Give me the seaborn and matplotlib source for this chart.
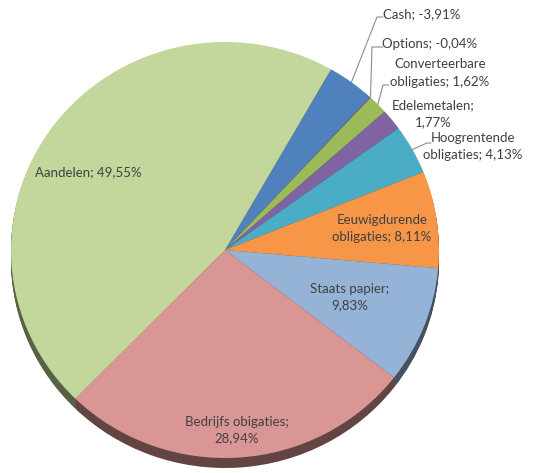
import numpy as np
import matplotlib
matplotlib.use("Agg")
import matplotlib.pyplot as plt
import seaborn as sns
from matplotlib.lines import Line2D

# data (percentages as shown in the chart; negative ones drawn by absolute size)
categories = ["Cash", "Options", "Converteerbare obligaties", "Edelemetalen",
              "Hoogrentende obligaties", "Eeuwigdurende obligaties",
              "Staats papier", "Bedrijfs obigaties", "Aandelen"]
shares = [-3.91, -0.04, 1.62, 1.77, 4.13, 8.11, 9.83, 28.94, 49.55]
slice_colors = ["#4F81BD", "#C0504D", "#9BBB59", "#8064A2", "#4BACC6",
                "#F79646", "#95B3D7", "#D99694", "#C3D69B"]
label_lines = [["Cash; -3,91%"], ["Options; -0,04%"],
               ["Converteerbare", "obligaties; 1,62%"], ["Edelemetalen;", "1,77%"],
               ["Hoogrentende", "obligaties; 4,13%"], ["Eeuwigdurende", "obligaties; 8,11%"],
               ["Staats papier;", "9,83%"], ["Bedrijfs obigaties;", "28,94%"],
               ["Aandelen; 49,55%"]]

sns.set_theme(style="white")
plt.rcParams["font.family"] = ["Lato", "DejaVu Sans"]

W, H = 541, 473
cx, cy = 225, 250      # pie centre in pixels (from top-left)
rx, ry = 214, 208      # slightly squashed -> tilted look
depth = 10

fig = plt.figure(figsize=(W / 100, H / 100), dpi=100)
ax = fig.add_axes([0, 0, 1, 1])

sizes = np.abs(shares)
palette = sns.color_palette(slice_colors)
dark = [tuple(c * 0.45 for c in col) for col in palette]

# side of the 3d pie: stacked darker copies shifted downward
for k in range(depth, 0, -1):
    ax.pie(sizes, colors=dark, startangle=60.3, counterclock=False,
           center=(0, -k / ry), radius=1, wedgeprops=dict(linewidth=0), frame=True)
wedges, _ = ax.pie(sizes, colors=palette, startangle=60.3, counterclock=False,
                   center=(0, 0), radius=1, wedgeprops=dict(linewidth=0), frame=True)

ax.set_aspect("auto")
ax.set_xlim(-cx / rx, (W - cx) / rx)
ax.set_ylim(-(H - cy) / ry, cy / ry)
ax.axis("off")

txt_color = "#404040"

def px(x, y):
    return x / W, 1 - y / H

# label anchor (pixel centre of text block) per slice
label_pos = [(422, 14), (430, 44), (440, 73), (433, 114), (473, 146),
             (382, 228), (350, 297), (237, 430), (88, 172)]
line_h = 17
for lines, (lx, ly) in zip(label_lines, label_pos):
    n = len(lines)
    for i, s in enumerate(lines):
        yy = ly + (i - (n - 1) / 2) * line_h
        fig.text(*px(lx, yy), s, ha="center", va="center", fontsize=9.5, color=txt_color)

# leader lines for the small outside labels: wedge edge -> elbow -> text
leaders = {0: [(377, 17), (383, 17)], 1: [(372, 47), (383, 47)],
           2: [(383, 85), (389, 85)], 4: [(427, 143), (431, 143)]}
for idx, pts in leaders.items():
    w = wedges[idx]
    mid = np.deg2rad((w.theta1 + w.theta2) / 2)
    ex, ey = cx + rx * np.cos(mid), cy - ry * np.sin(mid)
    xs = [ex] + [p[0] for p in pts]
    ys = [ey] + [p[1] for p in pts]
    fig.add_artist(Line2D([x / W for x in xs], [1 - y / H for y in ys],
                          transform=fig.transFigure, color="#8c8c8c", lw=0.8))

fig.savefig("out.png", dpi=100, facecolor="white")
